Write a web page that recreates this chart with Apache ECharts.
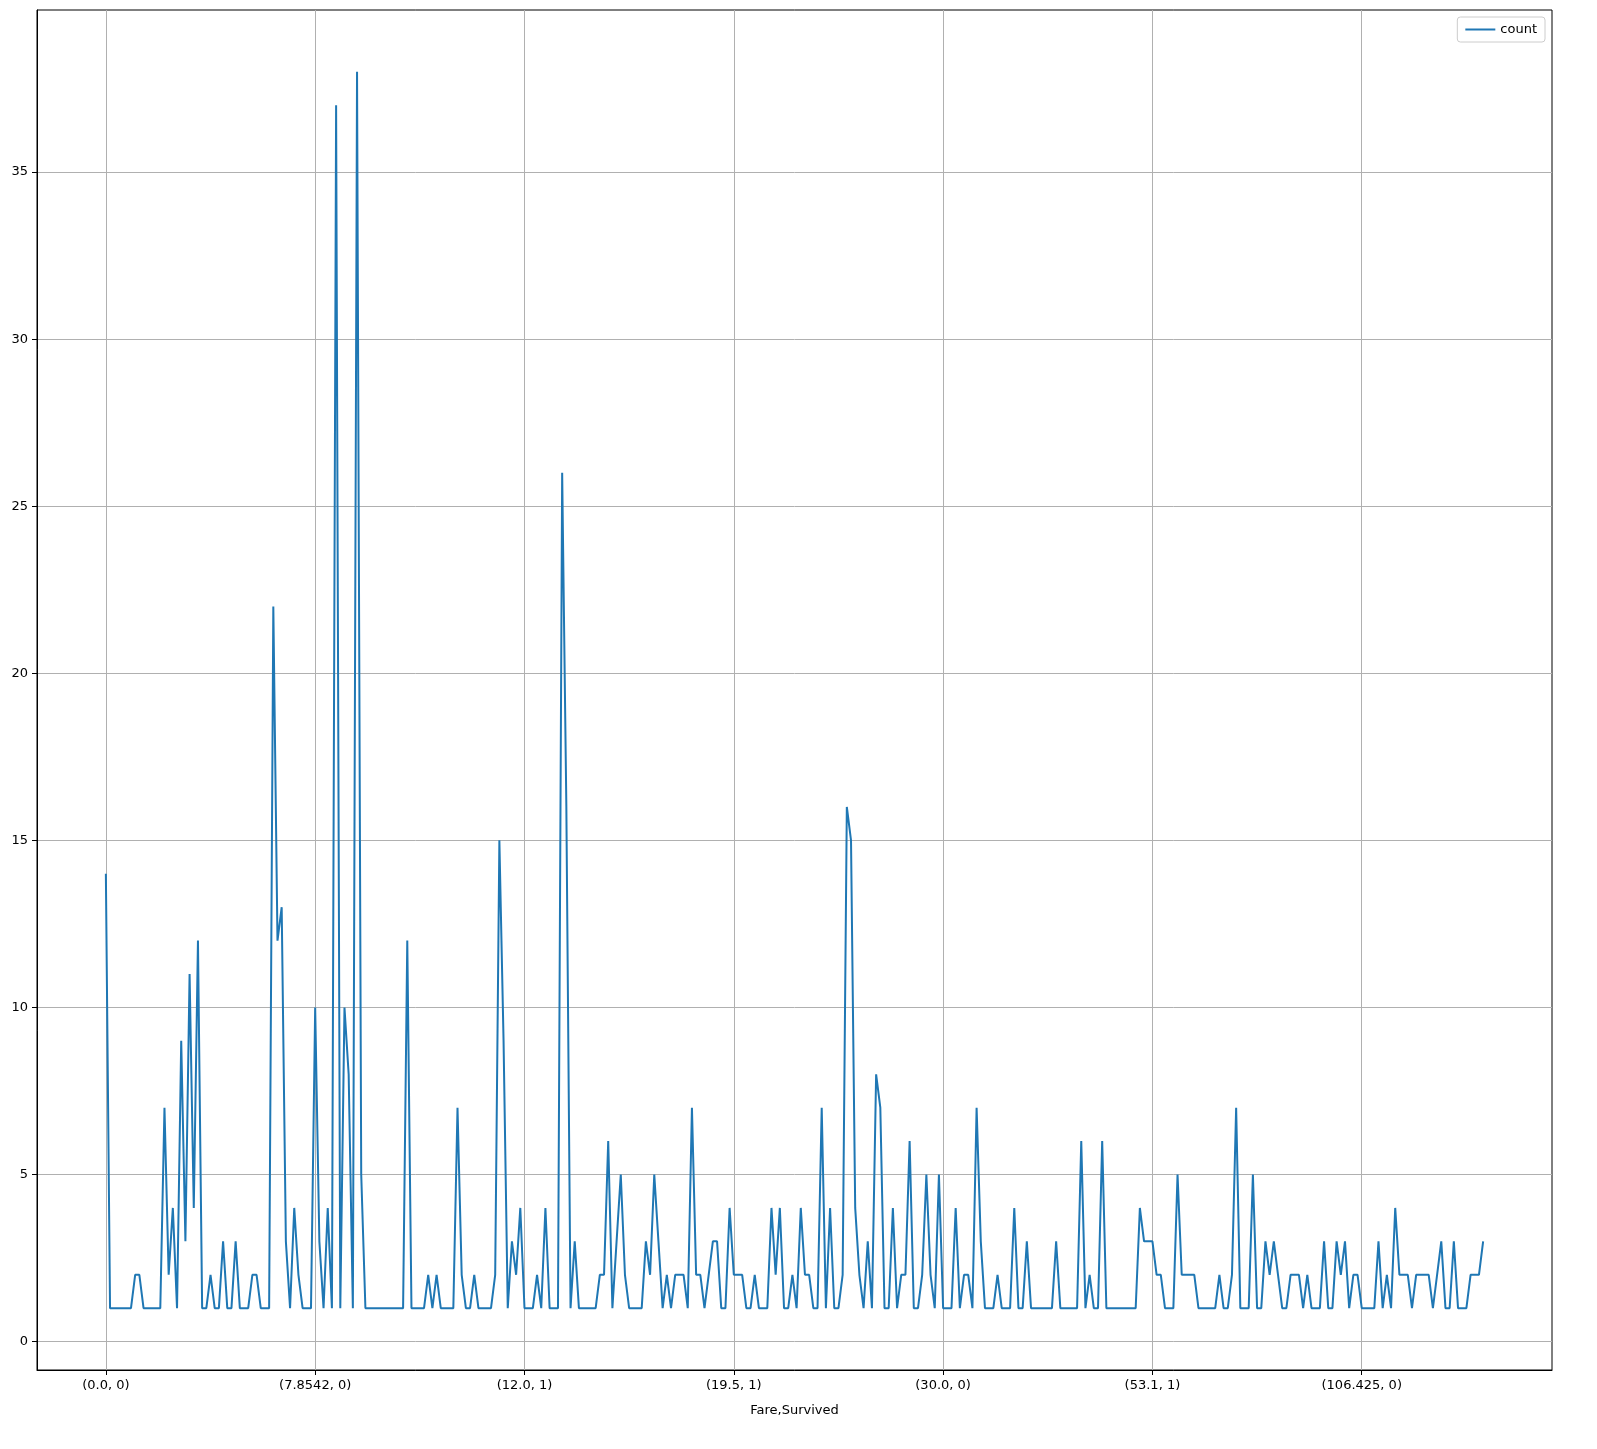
<!DOCTYPE html>
<html>
<head>
<meta charset="utf-8">
<script src="https://cdn.jsdelivr.net/npm/echarts@6/dist/echarts.min.js"></script>
<style>html,body{margin:0;padding:0;background:#fff}#chart{width:1597px;height:1449px}</style>
</head>
<body>
<div id="chart"></div>
<script>
// Counts per (Fare, Survived) group, in order
const counts = [
  14,1,1,1,1,1,1,2,2,1, 1,1,1,1,7,2,4,1,9,3, 11,4,12,1,1,2,1,1,3,1,
  1,3,1,1,1,2,2,1,1,1, 22,12,13,3,1,4,2,1,1,1, 10,3,1,4,1,37,1,10,8,1,
  38,5,1,1,1,1,1,1,1,1, 1,1,12,1,1,1,1,2,1,2, 1,1,1,1,7,2,1,1,2,1,
  1,1,1,2,15,9,1,3,2,4, 1,1,1,2,1,4,1,1,1,26, 16,1,3,1,1,1,1,1,2,2,
  6,1,3,5,2,1,1,1,1,3, 2,5,3,1,2,1,2,2,2,1, 7,2,2,1,2,3,3,1,1,4,
  2,2,2,1,1,2,1,1,1,4, 2,4,1,1,2,1,4,2,2,1, 1,7,1,4,1,1,2,16,15,4,
  2,1,3,1,8,7,1,1,4,1, 2,2,6,1,1,2,5,2,1,5, 1,1,1,4,1,2,2,1,7,3,
  1,1,1,2,1,1,1,4,1,1, 3,1,1,1,1,1,1,3,1,1, 1,1,1,6,1,2,1,1,6,1,
  1,1,1,1,1,1,1,4,3,3, 3,2,2,1,1,1,5,2,2,2, 2,1,1,1,1,1,2,1,1,2,
  7,1,1,1,5,1,1,3,2,3, 2,1,1,2,2,2,1,2,1,1, 1,3,1,1,3,2,3,1,2,2,
  1,1,1,1,3,1,2,1,4,2, 2,2,1,2,2,2,2,1,2,3, 1,1,3,1,1,1,2,2,2,3
];
const tickPositions = [0, 50, 100, 150, 200, 250, 300];
const tickLabels = ['(0.0, 0)', '(7.8542, 0)', '(12.0, 1)', '(19.5, 1)', '(30.0, 0)', '(53.1, 1)', '(106.425, 0)'];
const yTicks = [0, 5, 10, 15, 20, 25, 30, 35];

const n = counts.length;
const pad = (n - 1) * 0.05;
const chart = echarts.init(document.getElementById('chart'));
const font = 'DejaVu Sans';

chart.setOption({
  animation: false,
  textStyle: { fontFamily: font },
  grid: { left: 37, right: 45, top: 10, bottom: 79, show: true, borderColor: '#000', borderWidth: 1 },
  legend: {
    right: 52, top: 17,
    data: ['count'],
    icon: 'path://M0,0 L30,0 L30,2 L0,2 Z',
    itemWidth: 30, itemHeight: 2,
    backgroundColor: '#fff', borderColor: '#ccc', borderWidth: 1, borderRadius: 3,
    padding: [6, 8],
    textStyle: { fontSize: 13, color: '#000', fontFamily: font }
  },
  xAxis: {
    type: 'value',
    min: -pad, max: n - 1 + pad,
    name: 'Fare,Survived', nameLocation: 'middle', nameGap: 34,
    nameTextStyle: { fontSize: 13, color: '#000' },
    axisLine: { show: true, onZero: false, lineStyle: { color: '#000' } },
    axisTick: { show: true, customValues: tickPositions, length: 5, lineStyle: { color: '#000' } },
    axisLabel: {
      customValues: tickPositions, fontSize: 13, color: '#000', margin: 9,
      formatter: v => tickLabels[tickPositions.indexOf(Math.round(v))] || ''
    },
    splitLine: { show: true, lineStyle: { color: '#b0b0b0', width: 1 } }
  },
  yAxis: {
    type: 'value',
    min: -0.85, max: 39.85,
    axisLine: { show: true, onZero: false, lineStyle: { color: '#000' } },
    axisTick: { show: true, customValues: yTicks, length: 5, lineStyle: { color: '#000' } },
    axisLabel: { customValues: yTicks, fontSize: 13, color: '#000', margin: 9 },
    splitLine: { show: true, lineStyle: { color: '#b0b0b0', width: 1 } }
  },
  series: [{
    name: 'count',
    type: 'line',
    data: counts.map((v, i) => [i, v]),
    showSymbol: false,
    lineStyle: { color: '#1f77b4', width: 2 },
    itemStyle: { color: '#1f77b4' }
  }]
});
</script>
</body>
</html>
